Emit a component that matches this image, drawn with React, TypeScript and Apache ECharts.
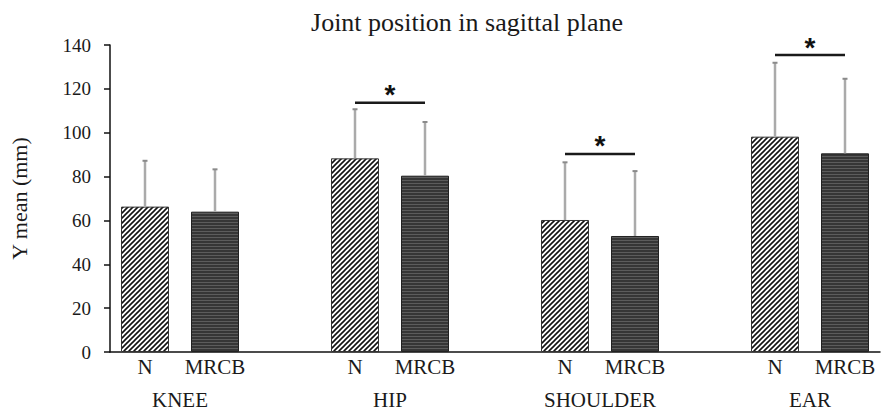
import React, { useEffect, useRef } from "react";
import * as echarts from "echarts";

const categories = ["N", "MRCB", "", "N", "MRCB", "", "N", "MRCB", "", "N", "MRCB"];
const groups = ["KNEE", "HIP", "SHOULDER", "EAR"];
const meanN = [66.3, 88.3, 60.2, 98.2];
const meanMRCB = [64.0, 80.4, 52.9, 90.6];
const errTopN = [87.2, 110.7, 86.5, 131.9];
const errTopMRCB = [83.3, 104.9, 82.5, 124.6];
const significant = [false, true, true, true];
const sigLevel = [0, 113.7, 90.3, 135.4];
const yTicks = { min: 0, max: 140, interval: 20 };

const FONT = "'Liberation Serif', 'Times New Roman', serif";

function makeHatch(): HTMLCanvasElement {
  const c = document.createElement("canvas");
  c.width = 5;
  c.height = 5;
  const ctx = c.getContext("2d")!;
  ctx.fillStyle = "#ffffff";
  ctx.fillRect(0, 0, 5, 5);
  ctx.strokeStyle = "#111111";
  ctx.lineWidth = 1.6;
  ctx.beginPath();
  ctx.moveTo(-1, 6);
  ctx.lineTo(6, -1);
  ctx.moveTo(-1, 1);
  ctx.lineTo(1, -1);
  ctx.moveTo(4, 6);
  ctx.lineTo(6, 4);
  ctx.stroke();
  return c;
}

function makeStripes(): HTMLCanvasElement {
  const c = document.createElement("canvas");
  c.width = 4;
  c.height = 3;
  const ctx = c.getContext("2d")!;
  ctx.fillStyle = "#363636";
  ctx.fillRect(0, 0, 4, 3);
  ctx.fillStyle = "#5c5c5c";
  ctx.fillRect(0, 0, 4, 1);
  return c;
}

export default function App() {
  const ref = useRef<HTMLDivElement>(null);

  useEffect(() => {
    if (!ref.current) return;
    const chart = echarts.init(ref.current, undefined, { renderer: "svg" });
    const hatch = makeHatch();
    const stripes = makeStripes();

    const barData: any[] = categories.map(() => "-");
    const errData: number[][] = [];
    const sigData: number[][] = [];
    const labelData: number[][] = [];
    groups.forEach((g, i) => {
      const iN = i * 3;
      const iM = i * 3 + 1;
      barData[iN] = {
        value: meanN[i],
        itemStyle: { color: { image: hatch, repeat: "repeat" }, borderColor: "#333", borderWidth: 1 },
      };
      barData[iM] = {
        value: meanMRCB[i],
        itemStyle: { color: { image: stripes, repeat: "repeat" }, borderColor: "#222", borderWidth: 1 },
      };
      errData.push([iN, meanN[i], errTopN[i]]);
      errData.push([iM, meanMRCB[i], errTopMRCB[i]]);
      if (significant[i]) sigData.push([iN, iM, sigLevel[i]]);
      labelData.push([iN, iM, 0]);
    });

    chart.setOption({
      animation: false,
      grid: { left: 104, right: 5, top: 45, bottom: 61 },
      graphic: [
        {
          type: "text",
          x: 467,
          y: 22,
          style: {
            text: "Joint position in sagittal plane",
            font: `26px ${FONT}`,
            fill: "#1a1a1a",
            textAlign: "center",
            textVerticalAlign: "middle",
          },
        },
      ],
      xAxis: {
        type: "category",
        data: categories,
        axisLine: { lineStyle: { color: "#111", width: 1.5 } },
        axisTick: { show: false },
        axisLabel: { interval: 0, fontFamily: FONT, fontSize: 21, color: "#1a1a1a", margin: 4 },
      },
      yAxis: {
        type: "value",
        min: yTicks.min,
        max: yTicks.max,
        interval: yTicks.interval,
        name: "Y mean (mm)",
        nameLocation: "middle",
        nameRotate: 90,
        nameGap: 80,
        nameTextStyle: { fontFamily: FONT, fontSize: 22, color: "#1a1a1a" },
        splitLine: { show: false },
        axisLine: { show: true, lineStyle: { color: "#111", width: 1.5 } },
        axisTick: { show: true, inside: false, length: 6, lineStyle: { color: "#111", width: 1.5 } },
        axisLabel: { fontFamily: FONT, fontSize: 19, color: "#1a1a1a", margin: 19 },
      },
      series: [
        {
          type: "bar",
          data: barData,
          barWidth: 48,
          z: 2,
        },
        {
          type: "custom",
          data: errData,
          z: 3,
          encode: { x: 0, y: 1 },
          renderItem: (params: any, api: any) => {
            const x = api.value(0);
            const p0 = api.coord([x, api.value(1)]);
            const p1 = api.coord([x, api.value(2)]);
            return {
              type: "group",
              children: [
                {
                  type: "line",
                  shape: { x1: p0[0], y1: p0[1], x2: p1[0], y2: p1[1] },
                  style: { stroke: "#aaaaaa", lineWidth: 2.5 },
                },
                {
                  type: "line",
                  shape: { x1: p1[0] - 2.5, y1: p1[1], x2: p1[0] + 2.5, y2: p1[1] },
                  style: { stroke: "#8a8a8a", lineWidth: 2 },
                },
              ],
            };
          },
        },
        {
          type: "custom",
          data: sigData,
          z: 4,
          encode: { x: 0, y: 2 },
          renderItem: (params: any, api: any) => {
            const a = api.coord([api.value(0), api.value(2)]);
            const b = api.coord([api.value(1), api.value(2)]);
            return {
              type: "group",
              children: [
                {
                  type: "line",
                  shape: { x1: a[0], y1: a[1], x2: b[0], y2: b[1] },
                  style: { stroke: "#1a1a1a", lineWidth: 2.5 },
                },
                {
                  type: "text",
                  x: (a[0] + b[0]) / 2,
                  y: a[1] - 8,
                  style: {
                    text: "*",
                    font: `bold 28px 'Liberation Sans', Arial, sans-serif`,
                    fill: "#111",
                    textAlign: "center",
                    textVerticalAlign: "middle",
                  },
                },
              ],
            };
          },
        },
        {
          type: "custom",
          data: labelData,
          z: 4,
          encode: { x: 0, y: 2 },
          renderItem: (params: any, api: any) => {
            const a = api.coord([api.value(0), 0]);
            const b = api.coord([api.value(1), 0]);
            return {
              type: "text",
              x: (a[0] + b[0]) / 2,
              y: a[1] + 48,
              style: {
                text: groups[params.dataIndex],
                font: `21px ${FONT}`,
                fill: "#1a1a1a",
                textAlign: "center",
                textVerticalAlign: "middle",
              },
            };
          },
        },
      ],
    });

    return () => {
      chart.dispose();
    };
  }, []);

  return (
    <div
      ref={ref}
      style={{ position: "absolute", left: 0, top: 0, width: 885, height: 413 }}
    />
  );
}
